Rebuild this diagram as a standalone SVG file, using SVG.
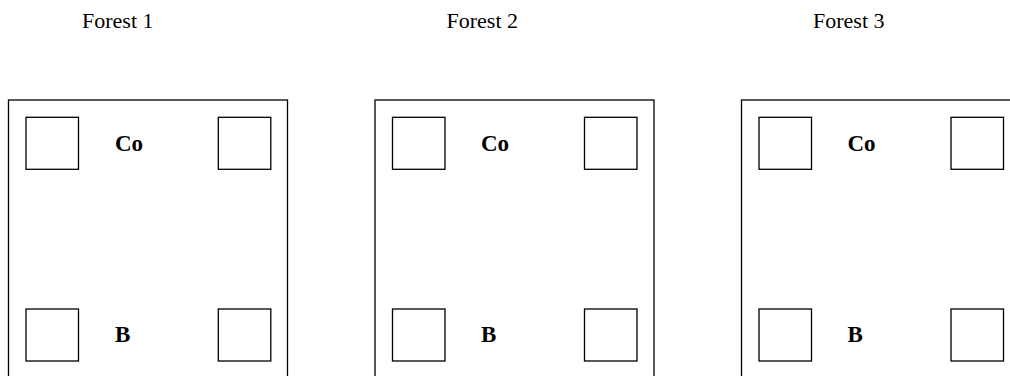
<svg xmlns="http://www.w3.org/2000/svg" width="1010" height="376" viewBox="0 0 1010 376">
<style>
.bg{fill:#ffffff}
.frame{fill:#ffffff;stroke:#000000;stroke-width:1.3}
.plot{fill:#ffffff;stroke:#000000;stroke-width:1.3}
.title{font-family:"Liberation Serif","Times New Roman",serif;font-size:22px;fill:#000000}
.lbl{font-family:"Liberation Serif","Times New Roman",serif;font-size:23px;font-weight:bold;fill:#000000}
</style>
<rect class="bg" x="0" y="0" width="1010" height="376"/>
<g id="forest1">
<text class="title" x="82" y="27.5">Forest 1</text>
<rect class="frame" x="8.5" y="100" width="279" height="300"/>
<rect class="plot" x="26" y="117.3" width="52.5" height="52"/>
<rect class="plot" x="218.3" y="117.3" width="52.5" height="52"/>
<rect class="plot" x="26" y="309" width="52.5" height="52"/>
<rect class="plot" x="218.3" y="309" width="52.5" height="52"/>
<text class="lbl" x="115" y="150.5">Co</text>
<text class="lbl" x="115" y="341.5">B</text>
</g>
<g id="forest2">
<text class="title" x="446.5" y="27.5">Forest 2</text>
<rect class="frame" x="375" y="100" width="279" height="300"/>
<rect class="plot" x="392.5" y="117.3" width="52.5" height="52"/>
<rect class="plot" x="584.5" y="117.3" width="52.5" height="52"/>
<rect class="plot" x="392.5" y="309" width="52.5" height="52"/>
<rect class="plot" x="584.5" y="309" width="52.5" height="52"/>
<text class="lbl" x="481" y="150.5">Co</text>
<text class="lbl" x="481" y="341.5">B</text>
</g>
<g id="forest3">
<text class="title" x="813" y="27.5">Forest 3</text>
<rect class="frame" x="741.5" y="100" width="279" height="300"/>
<rect class="plot" x="759" y="117.3" width="52.5" height="52"/>
<rect class="plot" x="951" y="117.3" width="52.5" height="52"/>
<rect class="plot" x="759" y="309" width="52.5" height="52"/>
<rect class="plot" x="951" y="309" width="52.5" height="52"/>
<text class="lbl" x="847.5" y="150.5">Co</text>
<text class="lbl" x="847.5" y="341.5">B</text>
</g>
<g id="connectors"/>
</svg>
